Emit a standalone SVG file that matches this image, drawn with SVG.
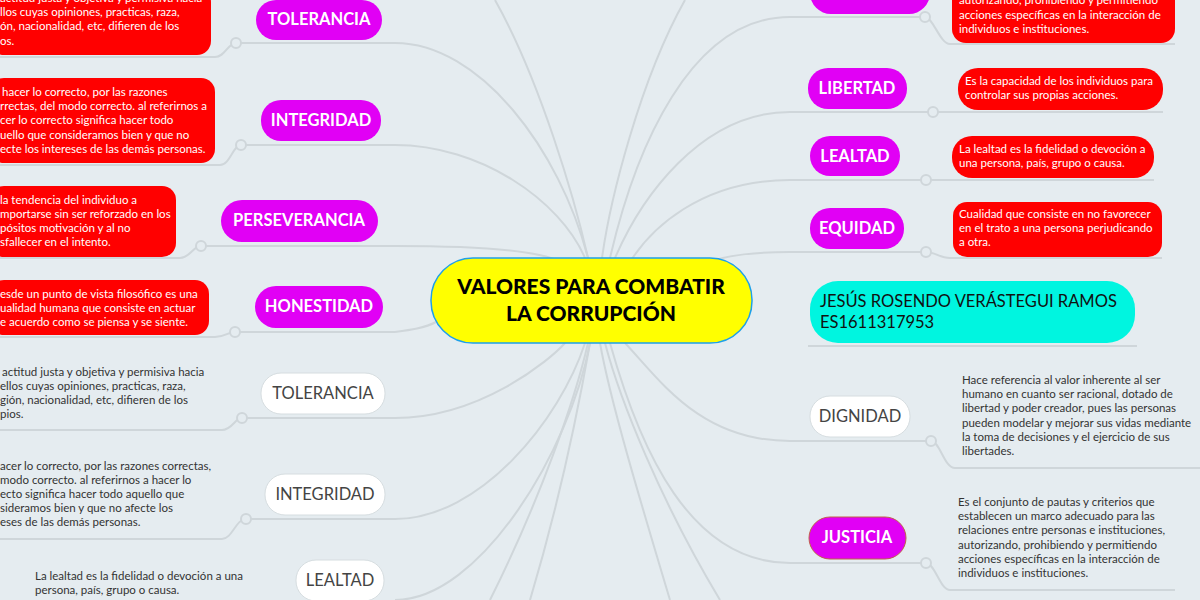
<svg xmlns="http://www.w3.org/2000/svg" width="1200" height="600" viewBox="0 0 1200 600">
<style>
.ln{fill:none;stroke:#cfd6da;stroke-width:2}
.dot{fill:#e5ecf0;stroke:#cfd6da;stroke-width:2}
.pn{fill:#e100f5}
.pt{font-family:Lato,"Open Sans",sans-serif;font-weight:bold;font-size:16.5px;fill:#fff;text-anchor:middle}
.wn{fill:#fff;stroke:#d6dde0;stroke-width:1}
.wt{font-family:Lato,"Open Sans",sans-serif;font-size:16.5px;fill:#444;text-anchor:middle}
.rb{fill:#ff0000}
.rt{font-family:Lato,"Open Sans",sans-serif;font-size:11.5px;fill:#fff}
.gt{font-family:Lato,"Open Sans",sans-serif;font-size:11.5px;fill:#333}
</style>
<rect width="1200" height="600" fill="#e5ecf0"/>
<g id="connectors">
<path class="ln" d="M395 43 C480 43 560 150 588 258"/>
<path class="ln" d="M395 145 C480 145 560 200 585 258"/>
<path class="ln" d="M395 246 C480 246 540 250 560 262"/>
<path class="ln" d="M395 332 C410 330 425 328 436 322"/>
<path class="ln" d="M395 418 C480 418 550 360 565 343"/>
<path class="ln" d="M395 519 C480 519 560 420 585 343"/>
<path class="ln" d="M395 600 C480 600 570 450 590 343"/>
<path class="ln" d="M495 0 C540 80 575 200 588 258"/>
<path class="ln" d="M685 0 C640 80 610 200 602 258"/>
<path class="ln" d="M790 17 C690 17 635 150 610 258"/>
<path class="ln" d="M790 112 C700 112 640 200 615 258"/>
<path class="ln" d="M790 180 C700 180 650 230 630 262"/>
<path class="ln" d="M790 252 C740 252 720 258 710 262"/>
<path class="ln" d="M790 441 C700 441 660 380 625 343"/>
<path class="ln" d="M790 563 C690 563 640 450 610 343"/>
<path class="ln" d="M530 600 C560 500 580 400 590 343"/>
<path class="ln" d="M490 600 C540 500 575 400 588 343"/>
<path class="ln" d="M670 600 C640 500 610 400 600 343"/>
<path class="ln" d="M720 600 C660 500 620 400 605 343"/>
</g>
<g id="center">
<rect x="431" y="258" width="321" height="85" rx="42" fill="#ffff00" stroke="#1ea0e8" stroke-width="1.5"/>
<text x="591" y="294" font-family="Lato,'Open Sans',sans-serif" font-weight="900" font-size="21" text-anchor="middle">VALORES PARA COMBATIR</text>
<text x="591" y="321" font-family="Lato,'Open Sans',sans-serif" font-weight="900" font-size="21" text-anchor="middle">LA CORRUPCIÓN</text>
</g>
<g id="tolerancia1">
<path class="ln" d="M0 57 L215 57 C225 57 228 43 236 43 L395 43"/><circle class="dot" cx="236" cy="43" r="5"/>
<rect class="rb" x="-10" y="-12" width="221" height="67" rx="14"/>
<text class="rt"><tspan x="0" y="2">actitud justa y objetiva y permisiva hacia</tspan><tspan x="0" y="16">llos cuyas opiniones, practicas, raza,</tspan><tspan x="0" y="30">ón, nacionalidad, etc, difieren de los</tspan><tspan x="0" y="45">os.</tspan></text>
<rect class="pn" x="256" y="0" width="126" height="40" rx="20"/><text class="pt" x="319" y="25">TOLERANCIA</text>
</g>
<g id="integridad1">
<path class="ln" d="M0 165 L220 165 C230 165 233 145 241 145 L395 145"/><circle class="dot" cx="241" cy="145" r="5"/>
<rect class="rb" x="-10" y="78" width="225" height="85" rx="14"/>
<text class="rt"><tspan x="2" y="96">hacer lo correcto, por las razones</tspan><tspan x="0" y="110">rrectas, del modo correcto. al referirnos a</tspan><tspan x="0" y="124">cer lo correcto significa hacer todo</tspan><tspan x="0" y="139">uello que consideramos bien y que no</tspan><tspan x="0" y="153">ecte los intereses de las demás personas.</tspan></text>
<rect class="pn" x="261" y="100" width="120" height="41" rx="20"/><text class="pt" x="321" y="126">INTEGRIDAD</text>
</g>
<g id="perseverancia">
<path class="ln" d="M0 258 L180 258 C190 258 193 246 201 246 L395 246"/><circle class="dot" cx="201" cy="246" r="5"/>
<rect class="rb" x="-10" y="186" width="186" height="71" rx="14"/>
<text class="rt"><tspan x="0" y="204">la tendencia  del individuo a</tspan><tspan x="0" y="218">mportarse sin ser reforzado en los</tspan><tspan x="0" y="232">pósitos motivación y al no</tspan><tspan x="0" y="246">sfallecer en el intento.</tspan></text>
<rect class="pn" x="221" y="200" width="157" height="42" rx="21"/><text class="pt" x="299" y="226">PERSEVERANCIA</text>
</g>
<g id="honestidad">
<path class="ln" d="M0 337 L215 337 C225 337 228 332 235 332 L395 332"/><circle class="dot" cx="235" cy="332" r="5"/>
<rect class="rb" x="-10" y="280" width="219" height="55" rx="14"/>
<text class="rt"><tspan x="0" y="298">esde un punto de vista filosófico es una</tspan><tspan x="0" y="312">ualidad humana que consiste en actuar</tspan><tspan x="0" y="326">e acuerdo como se piensa y se siente.</tspan></text>
<rect class="pn" x="255" y="286" width="128" height="42" rx="21"/><text class="pt" x="319" y="312">HONESTIDAD</text>
</g>
<g id="tolerancia2">
<path class="ln" d="M0 430 L222 430 C232 430 235 418 242 418 L395 418"/><circle class="dot" cx="242" cy="418" r="5"/>
<text class="gt"><tspan x="2" y="376">actitud justa y objetiva y permisiva hacia</tspan><tspan x="0" y="390">ellos cuyas opiniones, practicas, raza,</tspan><tspan x="0" y="404">gión, nacionalidad, etc, difieren de los</tspan><tspan x="0" y="418">pios.</tspan></text>
<rect class="wn" x="261" y="373" width="124" height="41" rx="20"/><text class="wt" x="323" y="399">TOLERANCIA</text>
</g>
<g id="integridad2">
<path class="ln" d="M0 539 L222 539 C232 539 236 519 246 519 L395 519"/><circle class="dot" cx="246" cy="519" r="5"/>
<text class="gt"><tspan x="0" y="470">acer lo correcto, por las razones correctas,</tspan><tspan x="0" y="484">modo correcto. al referirnos a hacer lo</tspan><tspan x="0" y="498">ecto significa hacer todo aquello que</tspan><tspan x="0" y="512">sideramos bien y que no afecte los</tspan><tspan x="0" y="526">eses de las demás personas.</tspan></text>
<rect class="wn" x="265" y="474" width="120" height="41" rx="20"/><text class="wt" x="325" y="500">INTEGRIDAD</text>
</g>
<g id="lealtad2">
<text class="gt"><tspan x="35" y="580">La lealtad es la fidelidad o devoción a una</tspan><tspan x="35" y="594">persona, país, grupo o causa.</tspan></text>
<rect class="wn" x="296" y="560" width="88" height="41" rx="20"/><text class="wt" x="340" y="586">LEALTAD</text>
</g>
<g id="justicia1">
<path class="ln" d="M790 17 L925 17 C933 17 940 44 950 44 L1175 44"/><circle class="dot" cx="925" cy="17" r="5"/>
<rect class="pn" x="810" y="-28" width="120" height="42" rx="21"/>
<rect class="rb" x="952" y="-20" width="223" height="63" rx="14"/>
<text class="rt"><tspan x="959" y="4">autorizando, prohibiendo y permitiendo</tspan><tspan x="959" y="19">acciones específicas en la interacción de</tspan><tspan x="959" y="33">individuos e instituciones.</tspan></text>
</g>
<g id="libertad">
<path class="ln" d="M790 112 L1163 112"/><circle class="dot" cx="933" cy="112" r="5"/>
<rect class="pn" x="808" y="68" width="99" height="41" rx="20"/><text class="pt" x="857" y="94">LIBERTAD</text>
<rect class="rb" x="958" y="68" width="205" height="42" rx="20"/>
<text class="rt"><tspan x="965" y="85">Es la capacidad de los individuos para</tspan><tspan x="965" y="99">controlar sus propias acciones.</tspan></text>
</g>
<g id="lealtad1">
<path class="ln" d="M790 180 L1154 180"/><circle class="dot" cx="926" cy="180" r="5"/>
<rect class="pn" x="810" y="136" width="90" height="40" rx="20"/><text class="pt" x="855" y="162">LEALTAD</text>
<rect class="rb" x="952" y="136" width="202" height="42" rx="20"/>
<text class="rt"><tspan x="959" y="153">La lealtad es la fidelidad o devoción a</tspan><tspan x="959" y="167">una persona, país, grupo o causa.</tspan></text>
</g>
<g id="equidad">
<path class="ln" d="M790 252 L926 252 C935 252 940 258 950 258 L1162 258"/><circle class="dot" cx="926" cy="252" r="5"/>
<rect class="pn" x="810" y="208" width="94" height="41" rx="20"/><text class="pt" x="857" y="234">EQUIDAD</text>
<rect class="rb" x="953" y="202" width="209" height="55" rx="14"/>
<text class="rt"><tspan x="959" y="218">Cualidad que consiste en no favorecer</tspan><tspan x="959" y="232">en el trato a una persona perjudicando</tspan><tspan x="959" y="246">a otra.</tspan></text>
</g>
<g id="autor">
<path class="ln" d="M808 346 L1137 346"/>
<rect x="810" y="281" width="325" height="62" rx="28" fill="#00f5e0"/>
<text font-family="Lato,'Open Sans',sans-serif" font-size="16.5" fill="#111"><tspan x="820" y="307">JESÚS ROSENDO VERÁSTEGUI RAMOS</tspan><tspan x="820" y="328">ES1611317953</tspan></text>
</g>
<g id="dignidad">
<path class="ln" d="M790 441 L931 441 C940 441 944 468 955 468 L1200 468"/><circle class="dot" cx="931" cy="441" r="5"/>
<rect class="wn" x="810" y="396" width="100" height="41" rx="20"/><text class="wt" x="860" y="422">DIGNIDAD</text>
<text class="gt"><tspan x="962" y="384">Hace referencia al valor inherente al ser</tspan><tspan x="962" y="398">humano en cuanto ser racional, dotado de</tspan><tspan x="962" y="412">libertad y poder creador, pues las personas</tspan><tspan x="962" y="427">pueden modelar y mejorar sus vidas mediante</tspan><tspan x="962" y="441">la toma de decisiones y el ejercicio de sus</tspan><tspan x="962" y="455">libertades.</tspan></text>
</g>
<g id="justicia2">
<path class="ln" d="M790 563 L926 563 C935 563 940 590 950 590 L1175 590"/><circle class="dot" cx="926" cy="563" r="5"/>
<rect x="809" y="517" width="97" height="42" rx="21" fill="#e100f5" stroke="#c0604a" stroke-width="1"/><text class="pt" x="857" y="543">JUSTICIA</text>
<text class="gt" fill="#555"><tspan x="958" y="506">Es el conjunto de pautas y criterios que</tspan><tspan x="958" y="520">establecen un marco adecuado para las</tspan><tspan x="958" y="534">relaciones entre personas e instituciones,</tspan><tspan x="958" y="549">autorizando, prohibiendo y permitiendo</tspan><tspan x="958" y="563">acciones específicas en la interacción de</tspan><tspan x="958" y="577">individuos e instituciones.</tspan></text>
</g>
</svg>
